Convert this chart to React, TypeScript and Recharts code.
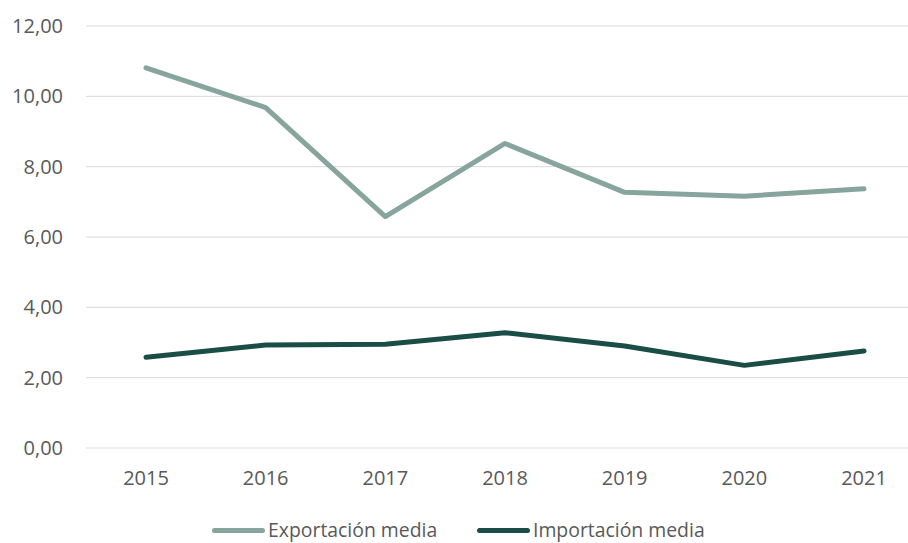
import { LineChart, Line, XAxis, YAxis, CartesianGrid } from 'recharts';

const years = ['2015', '2016', '2017', '2018', '2019', '2020', '2021'];
const exportacion = [10.81, 9.68, 6.58, 8.66, 7.27, 7.16, 7.37];
const importacion = [2.58, 2.93, 2.95, 3.28, 2.9, 2.35, 2.76];
const yTicks = [0, 2, 4, 6, 8, 10, 12];

const EXPORT_COLOR = '#87a59c';
const IMPORT_COLOR = '#1a4d45';
const TEXT_COLOR = '#595959';
const FONT = '"Open Sans", sans-serif';

const data = years.map((year, i) => ({
  year,
  exportacion: exportacion[i],
  importacion: importacion[i],
}));

const formatTick = (v: number) => v.toFixed(2).replace('.', ',');

function LegendItem({ color, label, left }: { color: string; label: string; left: number }) {
  return (
    <div style={{ position: 'absolute', left, top: 518, height: 24, display: 'flex', alignItems: 'center' }}>
      <span
        style={{
          display: 'inline-block',
          width: 53,
          height: 5,
          borderRadius: 3,
          background: color,
          marginRight: 3,
        }}
      />
      <span style={{ fontFamily: FONT, fontSize: 19.4, color: TEXT_COLOR, lineHeight: '24px' }}>
        {label}
      </span>
    </div>
  );
}

export default function App() {
  return (
    <div
      style={{
        position: 'fixed',
        top: 0,
        left: 0,
        width: 908,
        height: 543,
        overflow: 'hidden',
        background: '#fff',
      }}
    >
      <LineChart
        width={930}
        height={543}
        data={data}
        margin={{ top: 26, right: 6, bottom: 0, left: 0 }}
      >
        <CartesianGrid vertical={false} stroke="#d9d9d9" strokeWidth={1} />
        <XAxis
          dataKey="year"
          axisLine={false}
          tickLine={false}
          tickSize={0}
          tickMargin={23}
          height={95}
          padding={{ left: 60, right: 60 }}
          tick={{ fill: TEXT_COLOR, fontSize: 20, fontFamily: FONT }}
        />
        <YAxis
          domain={[0, 12]}
          ticks={yTicks}
          tickFormatter={formatTick}
          axisLine={false}
          tickLine={false}
          tickSize={0}
          tickMargin={23}
          width={86}
          tick={{ fill: TEXT_COLOR, fontSize: 20, fontFamily: FONT }}
        />
        <Line
          type="linear"
          dataKey="exportacion"
          stroke={EXPORT_COLOR}
          strokeWidth={5}
          strokeLinecap="round"
          strokeLinejoin="round"
          dot={false}
          isAnimationActive={false}
        />
        <Line
          type="linear"
          dataKey="importacion"
          stroke={IMPORT_COLOR}
          strokeWidth={5}
          strokeLinecap="round"
          strokeLinejoin="round"
          dot={false}
          isAnimationActive={false}
        />
      </LineChart>
      <LegendItem color={EXPORT_COLOR} label="Exportación media" left={212} />
      <LegendItem color={IMPORT_COLOR} label="Importación media" left={477} />
    </div>
  );
}
